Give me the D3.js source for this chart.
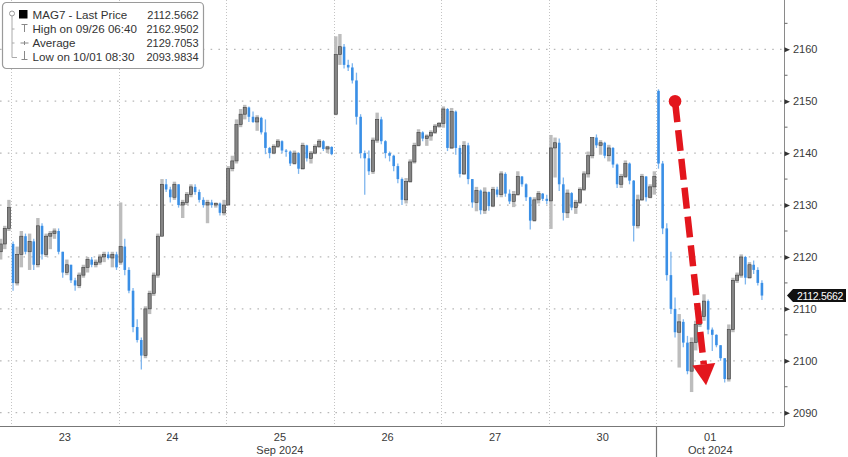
<!DOCTYPE html>
<html><head><meta charset="utf-8">
<script src="https://cdn.jsdelivr.net/npm/d3@7"></script>
<style>
html,body{margin:0;padding:0;background:#fff;}
svg{display:block;font-family:"Liberation Sans",Arial,sans-serif;}
</style></head><body>
<svg id="c" width="848" height="457"></svg>
<script>
// ---------- data ----------
const dayLabels = ["23","24","25","26","27","30","01"];
const monthLabels = [["25","Sep 2024"],["01","Oct 2024"]];
const yTicks = [2090,2100,2110,2120,2130,2140,2150,2160];
const yMinorTicks = [2095,2105,2115,2125,2135,2145,2155,2165];
const legendLabels = ["MAG7 - Last Price","High on 09/26 06:40","Average","Low on 10/01 08:30"];
const legendValues = ["2112.5662","2162.9502","2129.7053","2093.9834"];
const lastPrice = 2112.5662;
// annotation arrow (bar index, price)
const arrowFrom = [160.5, 2150];
const arrowTo = [168.0, 2095.3];

// 15-minute OHLC bars per session: [open, high, low, close]
const sep20 = [[2121,2123.5,2119.5,2122.5],[2122.5,2126,2121.5,2125.5],[2125.5,2131,2125,2129.5]];
const sep23 = [
[2122.5,2123,2113.5,2115],[2115,2122,2114.5,2120.5],[2120.5,2125,2118,2124],[2124,2124.5,2120.5,2121],
[2121,2124.5,2117.5,2123],[2123,2123.5,2117.5,2118.5],[2118.5,2127.5,2118,2126],[2126,2126.5,2119.5,2120.5],
[2120.5,2124.5,2120,2124],[2124,2125,2121.5,2124.5],[2124.5,2125.5,2123.5,2125],[2125,2125.5,2120.5,2121],
[2121,2121,2116,2117],[2117,2119.5,2116.5,2118.5],[2118.5,2118.5,2115,2115.5],[2115.5,2116,2113.5,2114.5],
[2114.5,2117,2114,2116.5],[2116.5,2118.5,2116,2118],[2118,2120,2117,2119.5],[2119.5,2120,2118,2118.5],
[2118.5,2119.5,2118,2119],[2119,2120.5,2118.5,2120],[2120,2121,2119,2120.5],[2120.5,2121,2119.5,2119.8],
[2119.8,2121,2118,2120.5],[2120.5,2121,2117.5,2118]];
const sep24 = [
[2119,2130.5,2118.5,2122],[2122,2123.5,2116.5,2117.5],[2117.5,2118,2113,2113.5],[2113.5,2114,2105.5,2106.5],
[2106.5,2108,2103.5,2104],[2104,2104.5,2098.3,2101],[2101,2110.5,2100.5,2110],[2110,2113.5,2109,2113],
[2113,2117,2112.5,2116.5],[2116.5,2124.5,2116,2124],[2124,2135,2124,2134],[2134,2135,2132.5,2133],
[2133,2133.5,2130.5,2131.5],[2131.5,2134.5,2131,2134],[2134,2134,2129.5,2130],[2130,2131,2127.5,2130.5],
[2130.5,2132.5,2130,2132],[2132,2134,2131.5,2133.5],[2133.5,2134,2132,2132.5],[2132.5,2133,2130.5,2131],
[2131,2131.5,2129.5,2130],[2130,2131,2126.5,2130.5],[2130.5,2131,2129.5,2130],[2130,2130.5,2129.5,2130.3],
[2130.3,2130.5,2128,2128.5],[2128.5,2131,2128,2130]];
const sep25 = [
[2130,2137.5,2130,2137],[2137,2139.5,2136.5,2138.5],[2138.5,2146.5,2138,2145.5],[2145.5,2148.5,2145,2147.5],
[2147.5,2149.3,2146.5,2148.8],[2148.8,2149,2146,2147],[2147,2148,2145.8,2146],[2146,2147.3,2144.3,2146.8],
[2146.8,2147,2143.6,2144],[2144,2146.5,2139.8,2141],[2141,2141.2,2139,2140],[2140,2141.7,2139.8,2141.3],
[2141.3,2142.7,2141,2142.3],[2142.3,2142.5,2140,2140.5],[2140.5,2140.8,2139.3,2140.3],[2140.3,2140.5,2137.5,2138],
[2138,2140.5,2137.8,2140],[2140,2140.2,2136,2137],[2137,2142,2136.8,2141.5],[2141.5,2141.6,2138.4,2139],
[2139,2140.4,2138,2140],[2140,2141.7,2139.8,2141.3],[2141.3,2142.7,2141,2142.3],[2142.3,2142.5,2140.4,2140.8],
[2140.8,2141.4,2140,2141.2],[2141.2,2141.3,2139.6,2139.8]];
const sep26 = [
[2147.5,2162.5,2147.3,2159],[2159,2162.95,2157,2160.5],[2160.5,2161,2156.3,2157],[2157,2158,2155.8,2156.5],
[2156.5,2157.3,2153.4,2154],[2154,2155.5,2145.5,2147],[2147,2147.5,2139,2140],[2140,2140.5,2132,2139],
[2139,2140.5,2135.8,2136.5],[2136.5,2143,2136,2142.5],[2142.5,2147.8,2142,2146.5],[2146.5,2147,2141.7,2142.3],
[2142.3,2142.5,2139,2140],[2140,2140.3,2138.4,2139.5],[2139.5,2139.7,2136.5,2137.5],[2137.5,2138,2134.2,2135],
[2135,2135.3,2130,2131],[2131,2135.2,2130.3,2134.5],[2134.5,2138.8,2134.3,2138.3],[2138.3,2142,2138,2141.5],
[2141.5,2144.6,2141.3,2144],[2144,2144.2,2142.3,2142.8],[2142.8,2143.6,2141.4,2143.3],[2143.3,2144.4,2142.4,2144],
[2144,2145.6,2143.7,2145.2],[2145.2,2146,2144.9,2145.7]];
const sep27 = [
[2145.7,2149,2144.9,2148.5],[2148.5,2148.7,2140.4,2141],[2141,2148.7,2140.8,2148],[2148,2148.2,2139.7,2141],
[2141,2141.5,2135.3,2136],[2136,2142.3,2135.8,2141.5],[2141.5,2142,2134,2135],[2135,2135,2129.5,2130.5],
[2130.5,2133.5,2128.8,2132.8],[2132.8,2133,2128.2,2129],[2129,2133.4,2128.3,2132.5],[2132.5,2132.6,2128.9,2129.8],
[2129.8,2133.5,2129.6,2133],[2133,2133.5,2131.5,2132],[2132,2136.5,2131.5,2136],[2136,2136.3,2131.6,2132.2],
[2132.2,2133,2130.2,2130.7],[2130.7,2132.7,2129.6,2132],[2132,2136.5,2131.8,2135.5],[2135.5,2135.6,2133.5,2134],
[2134,2134.2,2130.8,2131.5],[2131.5,2131.6,2125.3,2127],[2127,2131.5,2126.8,2131],[2131,2132.7,2130.3,2132.2],
[2132.2,2132.3,2130.8,2131.2],[2131.2,2132,2130.2,2130.8]];
const sep30 = [
[2130.8,2143.5,2125.4,2141],[2141,2143,2135.3,2142],[2142,2142.8,2132.7,2134],[2134,2135.3,2127,2128.5],
[2128.5,2133,2127.5,2132.3],[2132.3,2132.5,2129,2129.5],[2129.5,2131,2128.3,2130.5],[2130.5,2133.4,2130.2,2133],
[2133,2136.5,2132.7,2136],[2136,2140.3,2135.3,2139.5],[2139.5,2143,2139,2143],[2143,2143.6,2141,2141.5],
[2141.5,2142.5,2139.7,2142],[2142,2142.2,2139,2139.5],[2139.5,2141.6,2138.4,2141],[2141,2141.2,2137.2,2137.8],
[2137.8,2138,2133.3,2134],[2134,2136,2133.3,2135.5],[2135.5,2138.6,2135.2,2138],[2138,2138.2,2134,2134.7],
[2134.7,2134.8,2123,2126],[2126,2132,2125.5,2131],[2131,2136,2130.8,2135.5],[2135.5,2135.6,2130.7,2131.5],
[2131.5,2134,2131.3,2133.5],[2133.5,2136.5,2132,2135.5]];
const oct01 = [
[2152,2152.3,2137,2138],[2138,2138.5,2124.4,2125.5],[2125.5,2126.5,2115.4,2116.5],[2116.5,2121,2109,2110],
[2110,2112.2,2104.5,2105.5],[2105.5,2109,2098.7,2107.5],[2107.5,2108,2102.6,2103.5],[2103.5,2104.8,2097.4,2098],
[2098,2104.5,2093.98,2103.5],[2103.5,2107.7,2102,2107],[2107,2109.6,2106.5,2108.5],[2108.5,2112.8,2107.7,2111.5],
[2111.5,2111.8,2105.1,2106],[2106,2106.4,2101.9,2105],[2105,2105.1,2102.6,2103],[2103,2103,2100,2100.5],
[2100.5,2100.5,2095.8,2096.5],[2096.5,2107,2096,2106],[2106,2116,2105.5,2115.5],[2115.5,2117,2115,2116.5],
[2116.5,2120.5,2116,2120],[2120,2120.2,2114.7,2116],[2116,2119,2115.8,2118.5],[2118.5,2119.3,2116.7,2117.5],
[2117.5,2118,2114.5,2115],[2115,2115.5,2111.7,2112.5662]];

const barsPerDay = 26;
const sessions = [[-3, sep20],[0, sep23],[26, sep24],[52, sep25],[78, sep26],[104, sep27],[130, sep30],[156, oct01]];

// ---------- layout ----------
const W = 848, H = 457;
const plotL = 0, plotR = 784, plotT = 0, plotB = 426;
const svg = d3.select("#c");

const x = d3.scaleLinear().domain([0, barsPerDay * 7]).range([11, 764]);
const y = d3.scaleLinear().domain([2090, 2160]).range([412.7, 49.3]);
const dayBand = d3.scaleBand().domain(dayLabels).range([x(0), x(barsPerDay * 7)]).padding(0);
const bw = x(1) - x(0);

const bars = [];
sessions.forEach(([start, arr]) => arr.forEach((d, i) => bars.push({i: start + i, o: d[0], h: d[1], l: d[2], c: d[3]})));

svg.append("defs").append("clipPath").attr("id", "clip")
  .append("rect").attr("x", plotL).attr("y", plotT).attr("width", plotR - plotL).attr("height", plotB - plotT);

// grid
const grid = svg.append("g");
grid.selectAll("line.h").data(yTicks).join("line")
  .attr("x1", plotL).attr("x2", plotR).attr("y1", d => y(d)).attr("y2", d => y(d))
  .attr("stroke", "#b8b8b8").attr("stroke-width", 1.2).attr("stroke-dasharray", "1.6,6.2");
const boundaries = d3.range(0, 7).map(d => d * barsPerDay);
grid.selectAll("line.v").data(boundaries).join("line")
  .attr("x1", d => Math.round(x(d)) + 0.5).attr("x2", d => Math.round(x(d)) + 0.5)
  .attr("y1", plotT).attr("y2", plotB)
  .attr("stroke", "#c4c4c4").attr("stroke-width", 1).attr("stroke-dasharray", "1,2");

// candles
const cg = svg.append("g").attr("clip-path", "url(#clip)");
const up = bars.filter(d => d.c >= d.o), dn = bars.filter(d => d.c < d.o);
const cx = d => x(d.i) + bw / 2;
cg.selectAll("rect.uw").data(up).join("rect")
  .attr("x", d => cx(d) - 1.7).attr("width", 3.4)
  .attr("y", d => y(d.h)).attr("height", d => Math.max(1, y(d.l) - y(d.h)))
  .attr("fill", "#bdbdbd");
cg.selectAll("rect.ub").data(up).join("rect")
  .attr("x", d => cx(d) - 1.6).attr("width", 3.2)
  .attr("y", d => y(d.c)).attr("height", d => Math.max(1.2, y(d.o) - y(d.c)))
  .attr("fill", "#858585").attr("stroke", "#404040").attr("stroke-width", 0.6);
cg.selectAll("line.dw").data(dn).join("line")
  .attr("x1", cx).attr("x2", cx).attr("y1", d => y(d.h)).attr("y2", d => y(d.l))
  .attr("stroke", "#7fb6ee").attr("stroke-width", 1.3);
cg.selectAll("rect.db").data(dn).join("rect")
  .attr("x", d => cx(d) - 1.3).attr("width", 2.6)
  .attr("y", d => y(d.o)).attr("height", d => Math.max(1.2, y(d.c) - y(d.o)))
  .attr("fill", "#3a8fe6");

// red arrow annotation
const ax0 = x(arrowFrom[0]), ay0 = y(arrowFrom[1]);
const ax1 = x(arrowTo[0]), ay1 = y(arrowTo[1]);
const ang = Math.atan2(ay1 - ay0, ax1 - ax0);
const headLen = 21, headHalf = 11.5;
const bx = ax1 - headLen * Math.cos(ang), by = ay1 - headLen * Math.sin(ang);
const red = "#e3161d";
svg.append("line").attr("x1", ax0).attr("y1", ay0).attr("x2", bx).attr("y2", by)
  .attr("stroke", red).attr("stroke-width", 6.5).attr("stroke-dasharray", "21,8");
svg.append("circle").attr("cx", ax0).attr("cy", ay0).attr("r", 6.3).attr("fill", red);
const px = -Math.sin(ang), py = Math.cos(ang);
svg.append("path")
  .attr("d", `M${bx + px * headHalf},${by + py * headHalf}L${ax1},${ay1}L${bx - px * headHalf},${by - py * headHalf}Z`)
  .attr("fill", red);

// right axis
const ag = svg.append("g").attr("transform", `translate(${plotR},0)`);
ag.append("line").attr("x1", 0.5).attr("x2", 0.5).attr("y1", 0).attr("y2", plotB + 0.5).attr("stroke", "#8a8a8a");
const yAxis = d3.axisRight(y).tickValues(yTicks).tickSize(0).tickPadding(9).tickFormat(d3.format("d"));
const yg = ag.append("g").call(yAxis);
yg.select(".domain").remove();
yg.selectAll("text").attr("fill", "#3a3a3a").attr("font-size", "11px").attr("font-family", "Liberation Sans, Arial, sans-serif");
yg.selectAll(".tick").append("path").attr("d", "M0.5,-2.5L6,0L0.5,2.5Z").attr("fill", "#333");
ag.selectAll("line.minor").data(yMinorTicks).join("line")
  .attr("x1", 0.5).attr("x2", 3.5).attr("y1", d => y(d)).attr("y2", d => y(d))
  .attr("stroke", "#666");

// last price tag
const ly = y(lastPrice);
const tag = svg.append("g");
tag.append("path").attr("d", `M${plotR + 3},${ly}L${plotR + 9},${ly - 6.5}L846,${ly - 6.5}L846,${ly + 6.5}L${plotR + 9},${ly + 6.5}Z`).attr("fill", "#111");
tag.append("text").attr("x", 820).attr("y", ly + 4).attr("text-anchor", "middle")
  .attr("fill", "#fff").attr("font-size", "10.5px").attr("letter-spacing", "-0.3")
  .text(d3.format(".4f")(lastPrice));

// bottom axis
svg.append("line").attr("x1", plotL).attr("x2", plotR).attr("y1", plotB + 0.5).attr("y2", plotB + 0.5).attr("stroke", "#777");
svg.append("line").attr("x1", Math.round(x(156)) + 0.5).attr("x2", Math.round(x(156)) + 0.5)
  .attr("y1", plotB).attr("y2", H).attr("stroke", "#777").attr("stroke-width", 1.2);
const xg = svg.append("g").attr("transform", `translate(0,${plotB})`)
  .call(d3.axisBottom(dayBand).tickSize(0).tickPadding(7));
xg.select(".domain").remove();
xg.selectAll("text").attr("fill", "#3a3a3a").attr("font-size", "11px").attr("font-family", "Liberation Sans, Arial, sans-serif");
svg.selectAll("text.month").data(monthLabels).join("text")
  .attr("x", d => dayBand(d[0]) + dayBand.bandwidth() / 2).attr("y", 454)
  .attr("text-anchor", "middle").attr("fill", "#3a3a3a").attr("font-size", "11px").text(d => d[1]);

// legend
const lg = svg.append("g");
lg.append("rect").attr("x", 2.5).attr("y", 2.5).attr("width", 201).attr("height", 66).attr("rx", 4)
  .attr("fill", "#fff").attr("stroke", "#9a9a9a").attr("stroke-width", 1.2);
const rowY = [19, 33, 47, 61];
lg.append("line").attr("x1", 12).attr("x2", 12).attr("y1", 16).attr("y2", 57.5).attr("stroke", "#aaa");
lg.append("line").attr("x1", 12).attr("x2", 17).attr("y1", 57.5).attr("y2", 57.5).attr("stroke", "#aaa");
lg.append("line").attr("x1", 12).attr("x2", 14.5).attr("y1", 29).attr("y2", 29).attr("stroke", "#aaa");
lg.append("line").attr("x1", 12).attr("x2", 14.5).attr("y1", 43).attr("y2", 43).attr("stroke", "#aaa");
lg.append("circle").attr("cx", 12).attr("cy", 13.5).attr("r", 2.5).attr("fill", "#fff").attr("stroke", "#999");
lg.append("rect").attr("x", 19).attr("y", 10).attr("width", 8.5).attr("height", 8.5).attr("fill", "#000");
lg.append("path").attr("d", "M21.5,24.5H27.5M24.5,24.5V32").attr("stroke", "#888").attr("fill", "none");
lg.append("path").attr("d", "M20.5,43H28.5M24.5,41V45").attr("stroke", "#888").attr("fill", "none");
lg.append("path").attr("d", "M24.5,51V59M21.5,59.5H27.5").attr("stroke", "#888").attr("fill", "none");
lg.selectAll("text.lab").data(legendLabels).join("text")
  .attr("x", 32.5).attr("y", (d, i) => rowY[i]).attr("fill", "#333").attr("font-size", "11.6px").text(d => d);
lg.selectAll("text.val").data(legendValues).join("text")
  .attr("x", 198.5).attr("y", (d, i) => rowY[i]).attr("text-anchor", "end").attr("fill", "#333").attr("font-size", "11px").text(d => d);
</script>
</body></html>
